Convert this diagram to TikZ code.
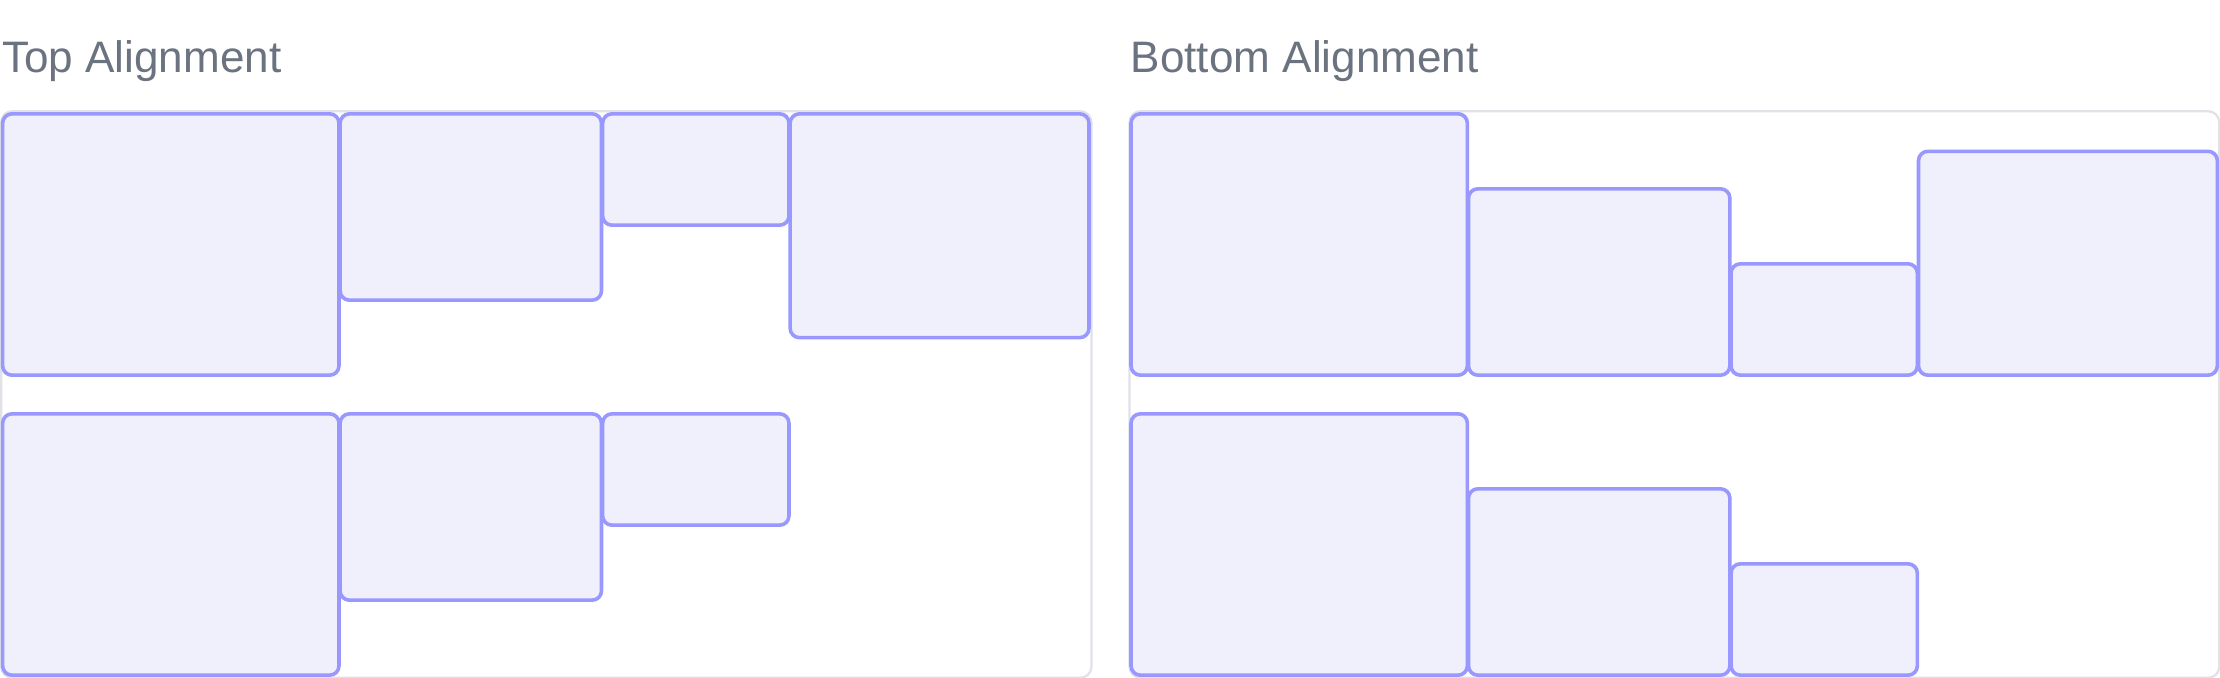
\documentclass[tikz,border=0pt]{standalone}
\usepackage{fontspec}
\setmainfont{Liberation Sans}
\usetikzlibrary{positioning}
\definecolor{cellline}{RGB}{152,152,255}
\definecolor{cellfill}{RGB}{240,240,253}
\definecolor{frameline}{RGB}{224,226,231}
\definecolor{titlegray}{RGB}{107,114,128}
\tikzset{
x=1pt,
y=-1pt,
cell/.style={draw=cellline, fill=cellfill, line width=1.9pt, rounded corners=5pt, inner sep=0pt, outer sep=0.3pt},
frame/.style={draw=frameline, line width=1.2pt, rounded corners=6pt, inner sep=0pt, outer sep=0pt},
title/.style={text=titlegray, inner sep=0pt, anchor=base west, font=\fontsize{23.5}{28}\selectfont},
sizeA/.style={minimum width=179.4pt, minimum height=139.4pt},
sizeB/.style={minimum width=139.4pt, minimum height=99.4pt},
sizeC/.style={minimum width=99.4pt, minimum height=59.4pt},
sizeD/.style={minimum width=159.4pt, minimum height=119.4pt},
}

\begin{document}
\begin{tikzpicture}
    \path[use as bounding box, fill=white] (0,0) rectangle (1184,361.07);

    \node[title] (topT) at (1,38.8) {Top Alignment};
    \node[title] (botT) at (602.9,38.8) {Bottom Alignment};

    \node[frame, minimum width=581.5pt, minimum height=302.2pt, anchor=north west] (frameL) at (0.6,59.3) {};
    \node[frame, minimum width=581.2pt, minimum height=302.2pt, anchor=north west] (frameR) at (602.4,59.3) {};

    %top
    \node[cell, sizeA, anchor=north west] (T1) at (1.1,60.4) {};
    \node[cell, sizeB, right=0pt of T1.north east, anchor=north west] (T2) {};
    \node[cell, sizeC, right=0pt of T2.north east, anchor=north west] (T3) {};
    \node[cell, sizeD, right=0pt of T3.north east, anchor=north west] (T4) {};

    \node[cell, sizeA, below=20pt of T1.south west, anchor=north west] (T5) {};
    \node[cell, sizeB, right=0pt of T5.north east, anchor=north west] (T6) {};
    \node[cell, sizeC, right=0pt of T6.north east, anchor=north west] (T7) {};

    %bottom
    \node[cell, sizeA, anchor=north west] (B1) at (602.9,60.4) {};
    \node[cell, sizeB, right=0pt of B1.south east, anchor=south west] (B2) {};
    \node[cell, sizeC, right=0pt of B2.south east, anchor=south west] (B3) {};
    \node[cell, sizeD, right=0pt of B3.south east, anchor=south west] (B4) {};

    \node[cell, sizeA, below=20pt of B1.south west, anchor=north west] (B5) {};
    \node[cell, sizeB, right=0pt of B5.south east, anchor=south west] (B6) {};
    \node[cell, sizeC, right=0pt of B6.south east, anchor=south west] (B7) {};

\end{tikzpicture}
\end{document}
